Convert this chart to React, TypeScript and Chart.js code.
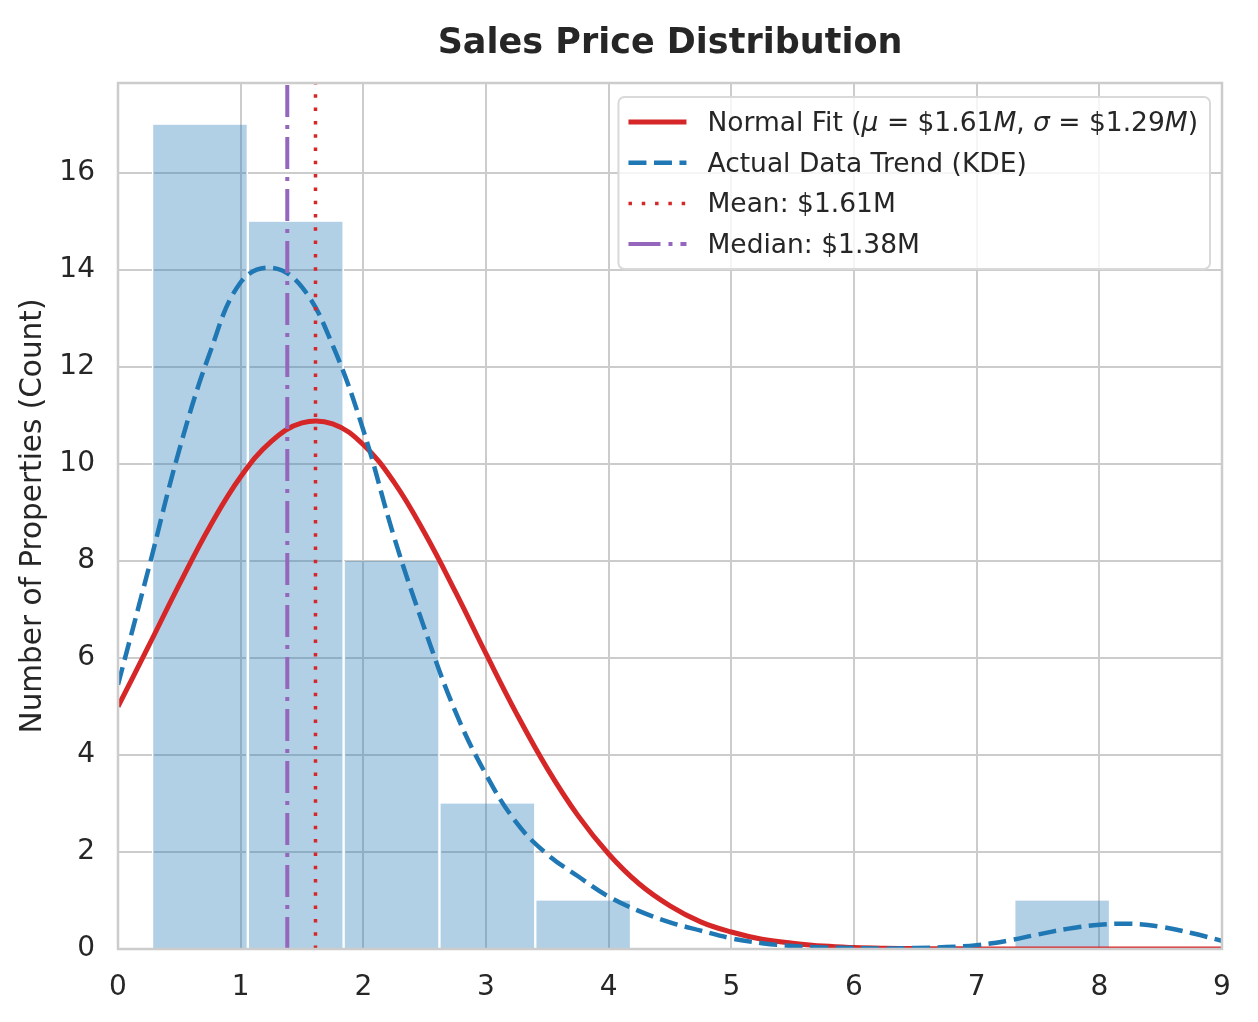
import React, { useEffect, useRef } from 'react';
import { Chart, registerables } from 'chart.js';

Chart.register(...registerables);

// histogram bins (price in $M) and counts
const binCenters = [0.668, 1.449, 2.23, 3.011, 3.792, 4.573, 5.354, 6.135, 6.916, 7.697];
const binCounts = [17, 15, 8, 3, 1, 0, 0, 0, 0, 1];

// sample positions for the two curves
const curveX = [
  0, 0.25, 0.5, 0.75, 1, 1.25, 1.5, 1.75, 2, 2.25, 2.5, 2.75, 3, 3.25, 3.5, 3.75, 4, 4.25, 4.5,
  4.75, 5, 5.25, 5.5, 5.75, 6, 6.25, 6.5, 6.75, 7, 7.25, 7.5, 7.75, 8, 8.25, 8.5, 8.75, 9,
];
const normalFit = [
  5.0, 6.25, 7.52, 8.72, 9.74, 10.47, 10.85, 10.83, 10.4, 9.63, 8.58, 7.37, 6.09, 4.85, 3.72,
  2.75, 1.96, 1.34, 0.89, 0.56, 0.35, 0.2, 0.12, 0.06, 0.03, 0.015, 0.008, 0.004, 0.002, 0, 0,
  0, 0, 0, 0, 0, 0,
];
const kdeTrend = [
  5.45, 7.85, 10.3, 12.3, 13.75, 14.05, 13.65, 12.45, 10.7, 8.5, 6.6, 4.9, 3.6, 2.6, 1.95, 1.5,
  1.08, 0.78, 0.55, 0.38, 0.22, 0.12, 0.06, 0.03, 0.02, 0.01, 0.02, 0.04, 0.08, 0.17, 0.3, 0.42,
  0.5, 0.52, 0.46, 0.33, 0.17,
];

const meanPrice = 1.61;
const medianPrice = 1.38;
const yMax = 17.86;
const xTicks = [0, 1, 2, 3, 4, 5, 6, 7, 8, 9];
const yTicks = [0, 2, 4, 6, 8, 10, 12, 14, 16];

const RED = '#d62728';
const BLUE = '#1f77b4';
const PURPLE = '#9467bd';
const TEXT = '#262626';
const GRID = '#cccccc';
const FONT = '"DejaVu Sans", sans-serif';

type Part = [string, boolean];
const legendRows: { parts: Part[]; color: string; width: number; dash: number[] }[] = [
  {
    parts: [
      ['Normal Fit (', false], ['\u03bc', true], [' = $1.61', false], ['M', true], [', ', false],
      ['\u03c3', true], [' = $1.29', false], ['M', true], [')', false],
    ],
    color: RED, width: 5, dash: [],
  },
  { parts: [['Actual Data Trend (KDE)', false]], color: BLUE, width: 4.5, dash: [18, 7.5] },
  { parts: [['Mean: $1.61M', false]], color: RED, width: 3.5, dash: [3.5, 9.8] },
  { parts: [['Median: $1.38M', false]], color: PURPLE, width: 4, dash: [32, 8, 4, 8] },
];

const framePlugin = {
  id: 'frame',
  afterDatasetsDraw(chart: Chart) {
    const { ctx, chartArea: a } = chart;
    ctx.save();
    ctx.strokeStyle = GRID;
    ctx.lineWidth = 2.5;
    ctx.strokeRect(a.left, a.top, a.right - a.left, a.bottom - a.top);
    ctx.restore();
  },
};

const legendPlugin = {
  id: 'priceLegend',
  afterDraw(chart: Chart) {
    const { ctx, chartArea: a } = chart;
    const fontSize = 26.5;
    const rowGap = 40.7;
    const sampleW = 58;
    ctx.save();
    let textW = 0;
    legendRows.forEach((row) => {
      let w = 0;
      row.parts.forEach(([t, it]) => {
        ctx.font = `${it ? 'italic ' : ''}${fontSize}px ${FONT}`;
        w += ctx.measureText(t).width;
      });
      textW = Math.max(textW, w);
    });
    const boxW = 10 + sampleW + 21 + textW + 12;
    const boxH = 172;
    const right = a.right - 12;
    const left = right - boxW;
    const top = a.top + 14;
    ctx.beginPath();
    ctx.roundRect(left, top, boxW, boxH, 6);
    ctx.fillStyle = 'rgba(255,255,255,0.8)';
    ctx.fill();
    ctx.strokeStyle = '#d9d9d9';
    ctx.lineWidth = 2;
    ctx.stroke();

    legendRows.forEach((row, i) => {
      const y = top + 25 + i * rowGap;
      ctx.strokeStyle = row.color;
      ctx.lineWidth = row.width;
      ctx.setLineDash(row.dash);
      ctx.beginPath();
      ctx.moveTo(left + 10, y);
      ctx.lineTo(left + 10 + sampleW, y);
      ctx.stroke();
      ctx.setLineDash([]);
      let x = left + 10 + sampleW + 21;
      ctx.fillStyle = TEXT;
      ctx.textBaseline = 'middle';
      ctx.textAlign = 'left';
      row.parts.forEach(([t, it]) => {
        ctx.font = `${it ? 'italic ' : ''}${fontSize}px ${FONT}`;
        ctx.fillText(t, x, y + 2);
        x += ctx.measureText(t).width;
      });
    });
    ctx.restore();
  },
};

const SalesPriceChart: React.FC = () => {
  const canvasRef = useRef<HTMLCanvasElement>(null);
  const chartRef = useRef<Chart | null>(null);

  useEffect(() => {
    document.body.style.margin = '0';
    const ctx = canvasRef.current?.getContext('2d');
    if (!ctx) return;
    if (chartRef.current) chartRef.current.destroy();

    chartRef.current = new Chart(ctx, {
      type: 'bar',
      data: {
        datasets: [
          {
            type: 'bar',
            label: 'Histogram',
            data: binCenters.map((x, i) => ({ x, y: binCounts[i] })),
            backgroundColor: 'rgba(31,119,180,0.35)',
            borderColor: '#ffffff',
            borderWidth: { left: 1.5, right: 1.5, top: 0, bottom: 0 },
            borderSkipped: false,
            barPercentage: 1,
            categoryPercentage: 1,
            order: 5,
          },
          {
            type: 'line',
            label: 'Normal Fit',
            data: curveX.map((x, i) => ({ x, y: normalFit[i] })),
            borderColor: RED,
            borderWidth: 5,
            pointRadius: 0,
            tension: 0.4,
            fill: false,
            order: 4,
          },
          {
            type: 'line',
            label: 'Actual Data Trend (KDE)',
            data: curveX.map((x, i) => ({ x, y: kdeTrend[i] })),
            borderColor: BLUE,
            borderWidth: 4.5,
            borderDash: [18, 7.5],
            pointRadius: 0,
            tension: 0.4,
            fill: false,
            order: 3,
          },
          {
            type: 'line',
            label: 'Mean',
            data: [{ x: meanPrice, y: 0 }, { x: meanPrice, y: yMax }],
            borderColor: RED,
            borderWidth: 3.5,
            borderDash: [3.5, 9.8],
            pointRadius: 0,
            fill: false,
            order: 2,
          },
          {
            type: 'line',
            label: 'Median',
            data: [{ x: medianPrice, y: 0 }, { x: medianPrice, y: yMax }],
            borderColor: PURPLE,
            borderWidth: 4,
            borderDash: [32, 8, 4, 8],
            pointRadius: 0,
            fill: false,
            order: 1,
          },
        ],
      },
      options: {
        responsive: false,
        animation: false,
        events: [],
        layout: { padding: { left: 0, right: 36, top: 0, bottom: 0 } },
        plugins: {
          legend: { display: false },
          tooltip: { enabled: false },
          title: {
            display: true,
            text: 'Sales Price Distribution',
            fullSize: false,
            color: TEXT,
            font: { family: FONT, size: 35, weight: 'bold', lineHeight: 1.2 },
            padding: { top: 23, bottom: 18 },
          },
        },
        scales: {
          x: {
            type: 'linear',
            min: 0,
            max: 9,
            offset: false,
            afterBuildTicks: (scale: any) => {
              scale.ticks = xTicks.map((v) => ({ value: v }));
            },
            afterFit: (scale: any) => {
              scale.height = 73;
            },
            grid: { color: GRID, lineWidth: 2, drawTicks: false, offset: false },
            border: { display: false },
            ticks: { color: TEXT, font: { family: FONT, size: 28 }, padding: 22, maxRotation: 0 },
          },
          y: {
            type: 'linear',
            min: 0,
            max: yMax,
            afterBuildTicks: (scale: any) => {
              scale.ticks = yTicks.map((v) => ({ value: v }));
            },
            afterFit: (scale: any) => {
              scale.width = 118;
            },
            grid: { color: GRID, lineWidth: 2, drawTicks: false },
            border: { display: false },
            ticks: { color: TEXT, font: { family: FONT, size: 28 }, padding: 23 },
            title: {
              display: true,
              text: 'Number of Properties (Count)',
              color: TEXT,
              font: { family: FONT, size: 29.5, lineHeight: 1.2 },
              padding: { top: 16, bottom: 0 },
            },
          },
        },
      },
      plugins: [framePlugin, legendPlugin],
    } as any);

    return () => {
      if (chartRef.current) {
        chartRef.current.destroy();
        chartRef.current = null;
      }
    };
  }, []);

  return <canvas ref={canvasRef} width={1258} height={1022} />;
};

export default function App() {
  return (
    <div style={{ width: 1258, height: 1022, background: '#ffffff' }}>
      <SalesPriceChart />
    </div>
  );
}
